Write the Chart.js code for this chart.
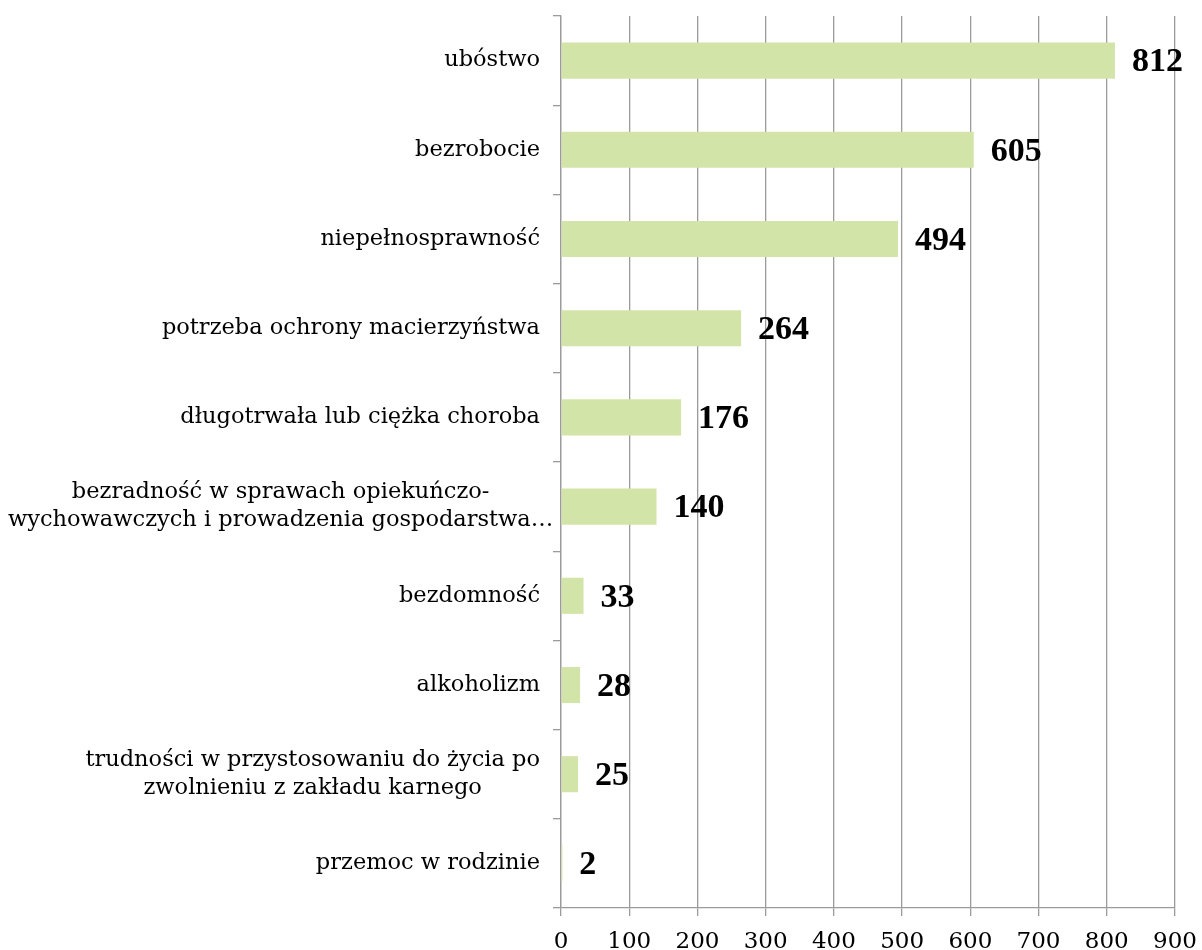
<!DOCTYPE html>
<html>
<head>
<meta charset="utf-8">
<script src="https://cdn.jsdelivr.net/npm/chart.js@4/dist/chart.umd.min.js"></script>
<style>
  body { margin: 0; background: #fff; }
  #wrap { width: 1202px; height: 950px; position: relative; }
</style>
</head>
<body>
<div id="wrap"><canvas id="chart"></canvas></div>
<script>
// categories, top to bottom (multi-line ones as arrays)
const categories = [
  'ubóstwo',
  'bezrobocie',
  'niepełnosprawność',
  'potrzeba ochrony macierzyństwa',
  'długotrwała lub ciężka choroba',
  ['bezradność w sprawach opiekuńczo-', 'wychowawczych i prowadzenia gospodarstwa…'],
  'bezdomność',
  'alkoholizm',
  ['trudności w przystosowaniu do życia po', 'zwolnieniu z zakładu karnego'],
  'przemoc w rodzinie'
];
const values = [812, 605, 494, 264, 176, 140, 33, 28, 25, 2];
const xTicks = [0, 100, 200, 300, 400, 500, 600, 700, 800, 900];

const gridColor = '#9b9b9b';
const labelFont = '22.5px "DejaVu Serif"';
const valueFont = 'bold 34px "Liberation Serif"';

// category labels: right aligned block, lines centered inside it
const categoryLabels = {
  id: 'categoryLabels',
  afterDraw(chart) {
    const ctx = chart.ctx;
    const y = chart.scales.y;
    const right = 540;
    const lineH = 28;
    ctx.save();
    ctx.font = labelFont;
    ctx.fillStyle = '#000';
    ctx.textAlign = 'center';
    ctx.textBaseline = 'middle';
    categories.forEach((cat, i) => {
      const lines = Array.isArray(cat) ? cat : [cat];
      const w = Math.max(...lines.map(l => ctx.measureText(l).width));
      const left = Math.max(8, right - w);
      const cx = left + w / 2;
      const cy = y.getPixelForValue(i);
      lines.forEach((l, k) => {
        ctx.fillText(l, cx, cy + (k - (lines.length - 1) / 2) * lineH);
      });
    });
    ctx.restore();
  }
};

// value labels to the right of each bar
const valueLabels = {
  id: 'valueLabels',
  afterDatasetsDraw(chart) {
    const ctx = chart.ctx;
    const meta = chart.getDatasetMeta(0);
    ctx.save();
    ctx.font = valueFont;
    ctx.fillStyle = '#000';
    ctx.textAlign = 'left';
    ctx.textBaseline = 'middle';
    meta.data.forEach((bar, i) => {
      ctx.fillText(String(values[i]), bar.x + 17, bar.y + 2);
    });
    ctx.restore();
  }
};

new Chart(document.getElementById('chart'), {
  type: 'bar',
  data: {
    labels: categories.map(c => Array.isArray(c) ? c.join(' ') : c),
    datasets: [{
      data: values,
      backgroundColor: '#d3e4a8',
      borderWidth: 0,
      barPercentage: 0.405,
      categoryPercentage: 1
    }]
  },
  options: {
    indexAxis: 'y',
    responsive: true,
    maintainAspectRatio: false,
    animation: false,
    layout: { padding: { top: 16, right: 27, left: 0, bottom: 0 } },
    plugins: { legend: { display: false }, tooltip: { enabled: false } },
    scales: {
      x: {
        min: 0,
        max: 900,
        afterBuildTicks(scale) { scale.ticks = xTicks.map(v => ({ value: v })); },
        afterFit(scale) {
          scale.height = 42;
          scale.paddingLeft = 0;
          scale.paddingRight = 0;
        },
        grid: { color: gridColor, lineWidth: 1.3, tickLength: 8 },
        border: { color: gridColor, width: 1.3 },
        ticks: {
          font: { family: 'DejaVu Serif', size: 23 },
          color: '#000',
          padding: 12,
          maxRotation: 0
        }
      },
      y: {
        afterFit(scale) { scale.width = 561; },
        grid: { offset: true, drawOnChartArea: false, drawTicks: true, tickLength: 8, color: gridColor, lineWidth: 1.3 },
        border: { color: gridColor, width: 1.3 },
        ticks: { display: false }
      }
    }
  },
  plugins: [categoryLabels, valueLabels]
});
</script>
</body>
</html>
